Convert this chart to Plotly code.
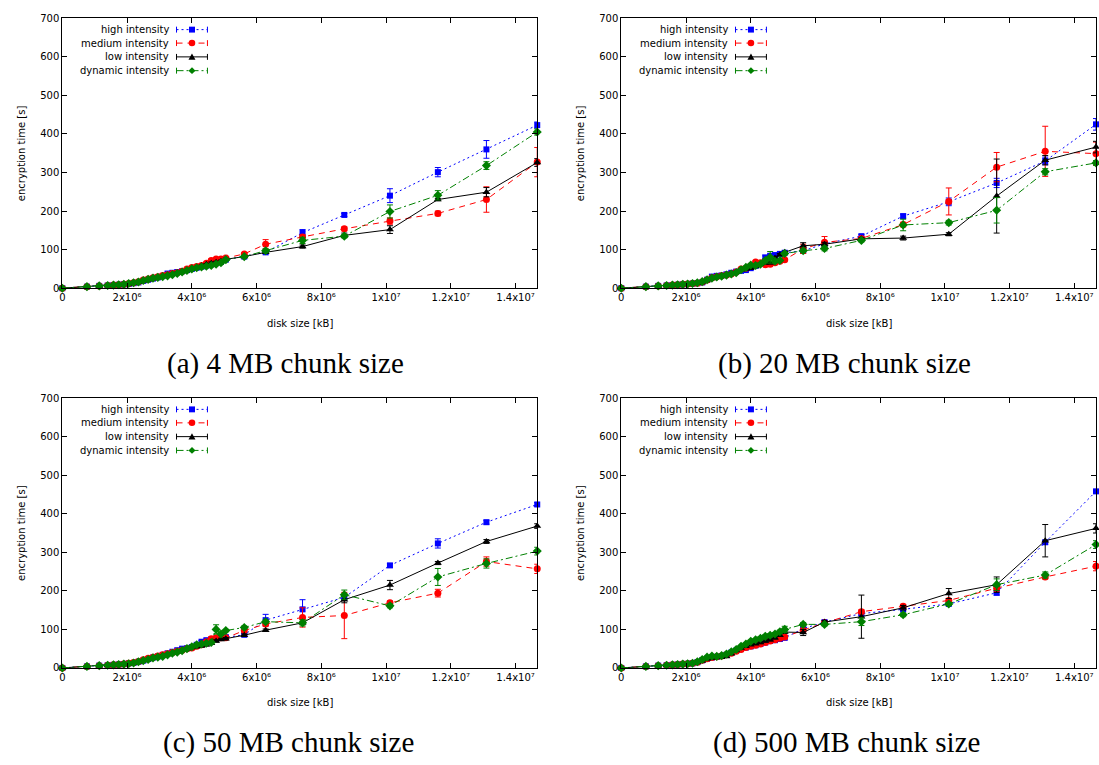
import plotly.graph_objects as go

W, H = 1099, 765

# ---------------- data ----------------
disk_size_kb = [0, 760000, 1140000, 1400000, 1580000, 1740000, 1900000,
                2050000, 2200000, 2350000, 2500000, 2650000, 2800000, 2950000,
                3100000, 3250000, 3400000, 3550000, 3700000, 3850000,
                4000000, 4150000, 4300000, 4450000, 4600000, 4750000, 4900000, 5050000,
                5620000, 6280000, 7420000, 8710000, 10120000, 11600000, 13100000, 14670000]

x_tick_vals = [0, 2e6, 4e6, 6e6, 8e6, 1e7, 1.2e7, 1.4e7]
x_tick_text = ["0", "2x10⁶", "4x10⁶", "6x10⁶", "8x10⁶", "1x10⁷", "1.2x10⁷", "1.4x10⁷"]
y_tick_vals = [0, 100, 200, 300, 400, 500, 600, 700]

series_names = ["high intensity", "medium intensity", "low intensity", "dynamic intensity"]
chunk_labels = ["(a) 4 MB chunk size", "(b) 20 MB chunk size",
                "(c) 50 MB chunk size", "(d) 500 MB chunk size"]

# 4 MB chunk size
time_4mb_high = [0, 4, 6, 7, 8, 9, 10, 11, 13, 15, 19, 22, 25, 28, 32, 38, 40, 42, 44, 47,
                 50, 53, 56, 59, 62, 65, 68, 74, 82, 93, 144, 190, 240, 301, 360, 423]
time_4mb_medium = [0, 4, 6, 7, 8, 9, 10, 12, 14, 17, 21, 24, 27, 30, 33, 35, 38, 40, 44, 50,
                   54, 56, 59, 65, 72, 76, 76, 78, 89, 114, 133, 154, 174, 194, 230, 327]
time_4mb_low = [0, 4, 6, 7, 8, 9, 10, 11, 13, 16, 19, 22, 25, 28, 31, 34, 37, 40, 43, 46,
                50, 54, 58, 62, 65, 67, 70, 75, 82, 93, 108, 137, 152, 230, 249, 326]
time_4mb_dynamic = [0, 4, 6, 7, 8, 9, 10, 12, 14, 16, 20, 23, 26, 28, 30, 32, 35, 38, 42, 46,
                    50, 53, 55, 57, 59, 62, 66, 74, 82, 97, 124, 135, 199, 241, 318, 405]
err_4mb_high = [0, 1, 1, 1, 1, 1, 1, 1, 1, 1, 1, 2, 2, 2, 2, 3, 2, 2, 2, 2,
                2, 2, 2, 3, 3, 3, 3, 3, 2, 3, 8, 4, 18, 12, 23, 8]
err_4mb_medium = [0, 1, 1, 1, 1, 1, 1, 1, 1, 1, 1, 2, 2, 2, 2, 2, 2, 2, 3, 4,
                  3, 2, 3, 3, 4, 3, 3, 3, 3, 12, 6, 5, 8, 6, 33, 38]
err_4mb_low = [0, 1, 1, 1, 1, 1, 1, 1, 1, 1, 1, 1, 2, 2, 2, 2, 2, 2, 2, 2,
               2, 2, 2, 2, 3, 3, 3, 3, 2, 2, 4, 6, 10, 3, 12, 10]
err_4mb_dynamic = [0, 1, 1, 1, 1, 1, 1, 1, 1, 1, 1, 2, 2, 2, 2, 2, 2, 2, 2, 2,
                   2, 2, 2, 2, 3, 3, 3, 3, 2, 5, 8, 4, 17, 12, 10, 8]

# 20 MB chunk size
time_20mb_high = [0, 4, 6, 7, 8, 9, 10, 11, 12, 13, 15, 22, 30, 32, 33, 36, 40, 43, 45, 47,
                  52, 58, 65, 80, 84, 86, 89, 92, 97, 115, 135, 187, 224, 273, 330, 425]
time_20mb_medium = [0, 4, 6, 7, 8, 9, 10, 11, 12, 13, 16, 21, 27, 30, 32, 34, 37, 42, 50, 52,
                    58, 68, 66, 61, 62, 66, 70, 74, 102, 119, 129, 165, 225, 314, 355, 349]
time_20mb_low = [0, 4, 6, 7, 8, 9, 10, 11, 12, 13, 15, 20, 25, 29, 32, 36, 39, 42, 48, 50,
                 52, 56, 62, 66, 66, 78, 87, 93, 110, 114, 128, 130, 140, 239, 332, 366]
time_20mb_dynamic = [0, 4, 6, 7, 8, 9, 10, 11, 12, 14, 17, 22, 26, 29, 31, 34, 37, 40, 48, 54,
                     60, 59, 62, 72, 80, 70, 72, 90, 97, 103, 124, 164, 170, 202, 302, 325]
err_20mb_high = [0, 1, 1, 1, 1, 1, 1, 1, 1, 1, 1, 2, 2, 2, 2, 2, 2, 2, 2, 2,
                 2, 2, 3, 4, 3, 3, 3, 3, 3, 4, 4, 5, 10, 12, 10, 15]
err_20mb_medium = [0, 1, 1, 1, 1, 1, 1, 1, 1, 1, 1, 2, 2, 2, 2, 2, 2, 3, 3, 3,
                   3, 3, 3, 3, 4, 3, 3, 3, 12, 15, 5, 6, 35, 38, 65, 30]
err_20mb_low = [0, 1, 1, 1, 1, 1, 1, 1, 1, 1, 1, 1, 2, 2, 2, 2, 2, 2, 2, 2,
                2, 2, 3, 3, 3, 3, 3, 3, 8, 5, 3, 5, 4, 96, 12, 15]
err_20mb_dynamic = [0, 1, 1, 1, 1, 1, 1, 1, 1, 1, 1, 2, 2, 2, 2, 2, 2, 2, 3, 3,
                    3, 3, 3, 4, 15, 4, 3, 3, 4, 6, 4, 15, 6, 33, 8, 6]

# 50 MB chunk size
time_50mb_high = [0, 4, 6, 7, 8, 9, 10, 12, 13, 16, 19, 23, 27, 30, 34, 38, 42, 46, 50, 51,
                  54, 60, 68, 72, 74, 76, 78, 80, 86, 124, 152, 183, 266, 323, 378, 424]
time_50mb_medium = [0, 4, 6, 7, 8, 9, 10, 12, 14, 17, 21, 25, 28, 31, 34, 37, 40, 43, 46, 50,
                    52, 56, 60, 68, 76, 78, 78, 78, 97, 114, 131, 136, 169, 194, 276, 257]
time_50mb_low = [0, 4, 6, 7, 8, 9, 10, 11, 13, 16, 19, 22, 26, 29, 32, 35, 38, 42, 46, 50,
                 53, 55, 57, 60, 64, 70, 74, 76, 85, 98, 117, 177, 215, 272, 328, 368]
time_50mb_dynamic = [0, 4, 6, 7, 8, 9, 10, 11, 13, 16, 19, 22, 26, 28, 30, 34, 38, 41, 45, 50,
                     55, 60, 62, 64, 66, 100, 88, 97, 105, 120, 117, 190, 161, 236, 271, 303]
err_50mb_high = [0, 1, 1, 1, 1, 1, 1, 1, 1, 1, 1, 2, 2, 2, 2, 2, 2, 2, 2, 2,
                 2, 2, 3, 3, 3, 3, 3, 3, 3, 15, 25, 5, 5, 12, 5, 5]
err_50mb_medium = [0, 1, 1, 1, 1, 1, 1, 1, 1, 1, 1, 2, 2, 2, 2, 2, 2, 2, 2, 2,
                   2, 3, 3, 3, 4, 3, 3, 3, 4, 5, 25, 60, 5, 10, 12, 12]
err_50mb_low = [0, 1, 1, 1, 1, 1, 1, 1, 1, 1, 1, 1, 2, 2, 2, 2, 2, 2, 2, 2,
                2, 2, 2, 3, 3, 3, 3, 3, 3, 3, 4, 8, 12, 4, 5, 6]
err_50mb_dynamic = [0, 1, 1, 1, 1, 1, 1, 1, 1, 1, 1, 2, 2, 2, 2, 2, 2, 2, 2, 2,
                    3, 3, 3, 3, 3, 12, 4, 3, 4, 5, 8, 12, 5, 22, 12, 10]

# 500 MB chunk size
time_500mb_high = [0, 4, 6, 7, 8, 9, 10, 11, 12, 15, 20, 24, 27, 29, 31, 34, 40, 45, 50, 53,
                   56, 59, 62, 66, 70, 72, 75, 78, 102, 119, 141, 152, 166, 195, 326, 458]
time_500mb_medium = [0, 4, 6, 7, 8, 9, 10, 11, 12, 15, 20, 24, 27, 29, 31, 34, 38, 43, 48, 53,
                     56, 59, 62, 66, 70, 73, 77, 80, 98, 117, 146, 160, 175, 207, 236, 264]
time_500mb_low = [0, 4, 6, 7, 8, 9, 10, 11, 12, 14, 18, 23, 26, 27, 28, 30, 37, 45, 52, 56,
                  60, 63, 66, 70, 73, 78, 85, 93, 92, 119, 133, 156, 193, 216, 330, 362]
time_500mb_dynamic = [0, 4, 6, 7, 8, 9, 10, 11, 12, 16, 22, 28, 31, 30, 32, 36, 42, 48, 56, 62,
                      69, 73, 77, 82, 85, 88, 94, 100, 113, 113, 120, 138, 166, 216, 241, 320]
err_500mb_high = [0, 1, 1, 1, 1, 1, 1, 1, 1, 1, 1, 2, 2, 2, 2, 2, 2, 2, 2, 2,
                  2, 2, 2, 3, 3, 3, 3, 3, 4, 3, 5, 4, 4, 6, 5, 5]
err_500mb_medium = [0, 1, 1, 1, 1, 1, 1, 1, 1, 1, 1, 2, 2, 2, 2, 2, 2, 2, 2, 2,
                    2, 2, 2, 3, 3, 3, 3, 3, 4, 3, 5, 5, 5, 8, 5, 12]
err_500mb_low = [0, 1, 1, 1, 1, 1, 1, 1, 1, 1, 1, 1, 2, 2, 2, 2, 2, 2, 2, 2,
                 2, 2, 3, 3, 3, 3, 3, 3, 8, 4, 56, 6, 13, 20, 42, 12]
err_500mb_dynamic = [0, 1, 1, 1, 1, 1, 1, 1, 1, 1, 1, 2, 2, 2, 2, 2, 2, 2, 2, 3,
                     3, 3, 4, 4, 4, 4, 4, 8, 5, 4, 10, 5, 4, 15, 8, 10]

times = [
    [time_4mb_high, time_4mb_medium, time_4mb_low, time_4mb_dynamic],
    [time_20mb_high, time_20mb_medium, time_20mb_low, time_20mb_dynamic],
    [time_50mb_high, time_50mb_medium, time_50mb_low, time_50mb_dynamic],
    [time_500mb_high, time_500mb_medium, time_500mb_low, time_500mb_dynamic],
]
errors = [
    [err_4mb_high, err_4mb_medium, err_4mb_low, err_4mb_dynamic],
    [err_20mb_high, err_20mb_medium, err_20mb_low, err_20mb_dynamic],
    [err_50mb_high, err_50mb_medium, err_50mb_low, err_50mb_dynamic],
    [err_500mb_high, err_500mb_medium, err_500mb_low, err_500mb_dynamic],
]

# ---------------- styles ----------------
colors = ["#0000ff", "#ff0000", "#000000", "#008000"]
dashes = ["2px,3px", "6px,5px", "solid", "7px,3px,2px,3px"]
symbols = ["square", "circle", "triangle-up", "diamond"]
msizes = [6, 7, 7, 7]

FONT = "DejaVu Sans"
FS = 10

# plot areas in pixels: left, top, right, bottom
panels = [(59.5, 12.5, 535.7, 286.7), (620, 12.5, 1096, 286.7),
          (59.5, 398.3, 535.7, 672.5), (620, 398.3, 1096, 672.5)]
caption_pos = [(283, 363), (844, 363), (286, 748), (846, 748)]


def px(x):
    return x / W


def py(y):
    return 1 - y / H


fig = go.Figure()
layout = dict(width=W, height=H, margin=dict(l=0, r=0, t=0, b=0),
              plot_bgcolor="white", paper_bgcolor="white", showlegend=False)
annotations = []
shapes = []

for p, (L, T, R, B) in enumerate(panels):
    sfx = "" if p == 0 else str(p + 1)
    for s in range(4):
        fig.add_trace(go.Scatter(
            x=disk_size_kb, y=times[p][s], name=series_names[s],
            mode="lines+markers", cliponaxis=False,
            line=dict(color=colors[s], width=1, dash=dashes[s]),
            marker=dict(symbol=symbols[s], size=msizes[s], color=colors[s], line=dict(width=0)),
            error_y=dict(type="data", array=errors[p][s], color=colors[s], thickness=1, width=3),
            xaxis="x" + sfx, yaxis="y" + sfx, showlegend=False))

    axis_common = dict(ticks="inside", ticklen=5, tickcolor="black", tickwidth=1,
                       showline=True, linecolor="black", linewidth=1, mirror="ticks",
                       showgrid=False, zeroline=False,
                       tickfont=dict(family=FONT, size=FS, color="black"))
    layout["xaxis" + sfx] = dict(domain=[px(L), px(R)], anchor="y" + sfx,
                                 range=[0, 14670000], tickmode="array",
                                 tickvals=x_tick_vals, ticktext=x_tick_text, **axis_common)
    layout["yaxis" + sfx] = dict(domain=[py(B), py(T)], anchor="x" + sfx,
                                 range=[0, 700], tickmode="array", tickvals=y_tick_vals,
                                 **axis_common)

    # axis titles
    annotations.append(dict(text="disk size [kB]", x=px((L + R) / 2), y=py(B + 35.5),
                            xref="paper", yref="paper", showarrow=False,
                            xanchor="center", yanchor="middle",
                            font=dict(family=FONT, size=FS, color="black")))
    annotations.append(dict(text="encryption time [s]", x=px(L - 41.5), y=py((T + B) / 2),
                            xref="paper", yref="paper", showarrow=False, textangle=-90,
                            xanchor="center", yanchor="middle",
                            font=dict(family=FONT, size=FS, color="black")))
    # caption
    cx, cy = caption_pos[p]
    annotations.append(dict(text=chunk_labels[p], x=px(cx), y=py(cy), xref="paper", yref="paper",
                            showarrow=False, xanchor="center", yanchor="middle",
                            font=dict(family="Liberation Serif", size=29, color="black")))

    # key (gnuplot style: text right-aligned, sample on the right)
    rows = [11.5, 25.2, 39.2, 53.2]
    for s in range(4):
        yr = T + rows[s]
        annotations.append(dict(text=series_names[s], x=px(L + 109), y=py(yr),
                                xref="paper", yref="paper", showarrow=False,
                                xanchor="right", yanchor="middle",
                                font=dict(family=FONT, size=FS, color="black")))
        x0, x1, xm = L + 114.5, L + 145.5, L + 130
        ln = dict(color=colors[s], width=1, dash=dashes[s])
        shapes.append(dict(type="line", xref="paper", yref="paper",
                           x0=px(x0), x1=px(x1), y0=py(yr), y1=py(yr), line=ln))
        for xc in (x0, x1):
            shapes.append(dict(type="line", xref="paper", yref="paper",
                               x0=px(xc), x1=px(xc), y0=py(yr - 3), y1=py(yr + 3),
                               line=dict(color=colors[s], width=1)))
        if s == 0:
            shapes.append(dict(type="rect", xref="paper", yref="paper",
                               x0=px(xm - 3), x1=px(xm + 3), y0=py(yr + 3), y1=py(yr - 3),
                               fillcolor=colors[s], line=dict(width=0)))
        elif s == 1:
            shapes.append(dict(type="circle", xref="paper", yref="paper",
                               x0=px(xm - 3.3), x1=px(xm + 3.3), y0=py(yr + 3.3), y1=py(yr - 3.3),
                               fillcolor=colors[s], line=dict(width=0)))
        elif s == 2:
            path = (f"M {px(xm - 3.5)},{py(yr + 2.8)} L {px(xm + 3.5)},{py(yr + 2.8)} "
                    f"L {px(xm)},{py(yr - 3.5)} Z")
            shapes.append(dict(type="path", xref="paper", yref="paper", path=path,
                               fillcolor=colors[s], line=dict(width=0)))
        else:
            path = (f"M {px(xm)},{py(yr - 3.5)} L {px(xm + 3.5)},{py(yr)} "
                    f"L {px(xm)},{py(yr + 3.5)} L {px(xm - 3.5)},{py(yr)} Z")
            shapes.append(dict(type="path", xref="paper", yref="paper", path=path,
                               fillcolor=colors[s], line=dict(width=0)))

layout["annotations"] = annotations
layout["shapes"] = shapes
fig.update_layout(**layout)
fig.write_html("out.html",
               config={"displayModeBar": False},
               post_script="document.body.style.margin='0px';"
                           "document.body.style.overflow='hidden';")
